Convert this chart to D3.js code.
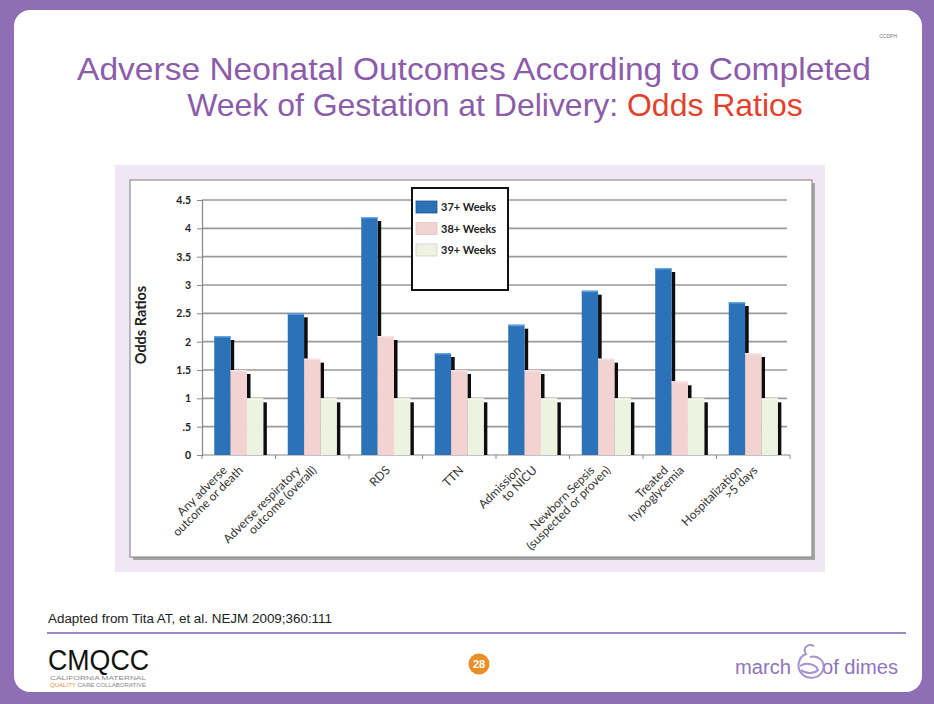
<!DOCTYPE html>
<html>
<head>
<meta charset="utf-8">
<script src="https://cdn.jsdelivr.net/npm/d3@7"></script>
<style>
  body { margin: 0; background: #8e6eb4; }
  svg { display: block; }
</style>
</head>
<body>
<svg id="slide" width="934" height="704"></svg>
<script>
// ---- data ----
const categories = [
  "Any adverse\noutcome or death",
  "Adverse respiratory\noutcome (overall)",
  "RDS",
  "TTN",
  "Admission\nto NICU",
  "Newborn Sepsis\n(suspected or proven)",
  "Treated\nhypoglycemia",
  "Hospitalization\n>5 days"
];
const seriesNames = ["37+ Weeks", "38+ Weeks", "39+ Weeks"];
const weeks37 = [2.1, 2.5, 4.2, 1.8, 2.3, 2.9, 3.3, 2.7];
const weeks38 = [1.5, 1.7, 2.1, 1.5, 1.5, 1.7, 1.3, 1.8];
const weeks39 = [1.0, 1.0, 1.0, 1.0, 1.0, 1.0, 1.0, 1.0];
const yTickValues = [0, 0.5, 1, 1.5, 2, 2.5, 3, 3.5, 4, 4.5];
const yTickLabels = ["0", ".5", "1", "1.5", "2", "2.5", "3", "3.5", "4", "4.5"];

const seriesValues = [weeks37, weeks38, weeks39];
const seriesColors = ["#2b72b8", "#f3d2d2", "#eef3e1"];
const seriesTops = ["#63a6e0", "#f8e3e3", "#f7faee"];

const svg = d3.select("#slide");
const chartFont = "Lato, 'Open Sans', sans-serif";

// ---- slide frame ----
svg.append("rect").attr("width", 934).attr("height", 704).attr("fill", "#8e6eb4");
svg.append("rect").attr("x", 14).attr("y", 10).attr("width", 908).attr("height", 682)
  .attr("rx", 16).attr("fill", "#ffffff");

// ---- title ----
function fittedLine(parts, cx, baseline, width, size) {
  const g = svg.append("g");
  const t = g.append("text")
    .attr("text-anchor", "middle")
    .attr("font-family", "'Liberation Sans', Arial, sans-serif")
    .attr("font-size", size);
  parts.forEach(p => t.append("tspan").attr("fill", p.color).text(p.text));
  const w = t.node().getComputedTextLength();
  g.attr("transform", `translate(${cx},${baseline}) scale(${width / w},1)`);
}
const titlePurple = "#8c5cab";
fittedLine([{ text: "Adverse Neonatal Outcomes According to Completed", color: titlePurple }],
  474, 80, 794, 32);
fittedLine([
  { text: "Week of Gestation at Delivery: ", color: titlePurple },
  { text: "Odds Ratios", color: "#e2422c" }
], 495, 116, 616, 32);

svg.append("text").attr("x", 897).attr("y", 38).attr("text-anchor", "end")
  .attr("font-family", "'Liberation Sans', sans-serif").attr("font-size", 5)
  .attr("fill", "#777").text("CCDPH");

// ---- chart panel ----
svg.append("rect").attr("x", 115).attr("y", 165).attr("width", 710).attr("height", 407)
  .attr("fill", "#f1e7f4");
svg.append("rect").attr("x", 133).attr("y", 183).attr("width", 682).attr("height", 377)
  .attr("fill", "#a5a5a5");
svg.append("rect").attr("x", 130).attr("y", 180).attr("width", 682).attr("height", 377)
  .attr("fill", "#ffffff").attr("stroke", "#8f8f8f").attr("stroke-width", 1.2);

// ---- scales ----
const y = d3.scaleLinear().domain([0, 4.5]).range([455, 200]);
const x0 = d3.scaleBand().domain(d3.range(categories.length)).range([202, 790]);
const x1 = d3.scaleBand().domain(d3.range(seriesNames.length))
  .range([0, x0.bandwidth()]).paddingInner(0).paddingOuter(0.75);

// gridlines
svg.append("g").selectAll("line").data(yTickValues.slice(1)).join("line")
  .attr("x1", 202).attr("x2", 787)
  .attr("y1", d => y(d)).attr("y2", d => y(d))
  .attr("stroke", "#9a9a9a").attr("stroke-width", 1.6);

// y axis
const yAxis = svg.append("g").attr("transform", "translate(202,0)")
  .call(d3.axisLeft(y).tickValues(yTickValues).tickSize(5).tickPadding(6)
    .tickFormat((d, i) => yTickLabels[i]));
yAxis.select(".domain").attr("stroke", "#888").attr("stroke-width", 1.2);
yAxis.selectAll(".tick line").attr("stroke", "#888");
yAxis.selectAll(".tick text").attr("font-family", chartFont).attr("font-weight", 700)
  .attr("font-size", 10.5).attr("fill", "#222");

// x axis
svg.append("line").attr("x1", 202).attr("x2", 790).attr("y1", y(0)).attr("y2", y(0))
  .attr("stroke", "#888").attr("stroke-width", 1.2);
svg.append("g").selectAll("line").data(d3.range(categories.length + 1)).join("line")
  .attr("x1", i => i < categories.length ? x0(i) : x0.range()[1])
  .attr("x2", i => i < categories.length ? x0(i) : x0.range()[1])
  .attr("y1", y(0)).attr("y2", y(0) + 4)
  .attr("stroke", "#888");

// ---- bars with dark side face ----
const barsG = svg.append("g");
const side = 3.6, drop = 4;
categories.forEach((c, i) => {
  seriesValues.forEach((vals, s) => {
    const bx = x0(i) + x1(s);
    const bw = x1.bandwidth();
    const v = vals[i];
    barsG.append("rect")
      .attr("x", bx + bw).attr("width", side)
      .attr("y", y(v) + drop).attr("height", y(0) - y(v) - drop)
      .attr("fill", "#0d0d0d");
    barsG.append("rect")
      .attr("x", bx).attr("width", bw)
      .attr("y", y(v)).attr("height", y(0) - y(v))
      .attr("fill", seriesColors[s]);
    barsG.append("rect")
      .attr("x", bx).attr("width", bw)
      .attr("y", y(v)).attr("height", 1.5)
      .attr("fill", seriesTops[s]);
  });
});

// ---- category labels ----
categories.forEach((c, i) => {
  const lines = c.split("\n");
  const n = lines.length;
  const cx = x0(i) + x0.bandwidth() / 2;
  lines.forEach((ln, k) => {
    svg.append("text")
      .attr("transform", `translate(${cx + 5 - (n - 1 - k) * 16},471) rotate(-45)`)
      .attr("text-anchor", "end")
      .attr("font-family", chartFont).attr("font-size", 12)
      .attr("fill", "#333")
      .text(ln);
  });
});

// axis title
svg.append("text")
  .attr("transform", `translate(146,325) rotate(-90)`)
  .attr("text-anchor", "middle")
  .attr("font-family", chartFont).attr("font-weight", 700).attr("font-size", 14.5)
  .attr("fill", "#222")
  .text("Odds Ratios");

// ---- legend ----
const lg = svg.append("g");
lg.append("rect").attr("x", 412).attr("y", 188).attr("width", 96).attr("height", 102)
  .attr("fill", "#ffffff").attr("stroke", "#111").attr("stroke-width", 2);
seriesNames.forEach((name, s) => {
  const cy = 207 + s * 21.5;
  lg.append("rect").attr("x", 416).attr("y", cy - 6).attr("width", 21).attr("height", 12)
    .attr("fill", seriesColors[s]).attr("stroke", s === 0 ? "#1d5a96" : "#d9c9c9")
    .attr("stroke-width", 0.8);
  lg.append("text").attr("x", 441).attr("y", cy + 4)
    .attr("font-family", chartFont).attr("font-weight", 700).attr("font-size", 11)
    .attr("fill", "#222").text(name);
});

// ---- footer ----
svg.append("text").attr("x", 48).attr("y", 623)
  .attr("font-family", "'Liberation Sans Narrow', 'Liberation Sans', sans-serif")
  .attr("font-size", 12.5).attr("fill", "#222")
  .attr("textLength", 284).attr("lengthAdjust", "spacingAndGlyphs")
  .text("Adapted from Tita AT, et al. NEJM 2009;360:111");
svg.append("line").attr("x1", 47).attr("x2", 906).attr("y1", 633).attr("y2", 633)
  .attr("stroke", "#9c88c6").attr("stroke-width", 2);

// CMQCC logo text
svg.append("text").attr("x", 48).attr("y", 670)
  .attr("font-family", "'Liberation Sans', sans-serif").attr("font-size", 30)
  .attr("textLength", 101).attr("lengthAdjust", "spacingAndGlyphs")
  .attr("fill", "#111").text("CMQCC");
svg.append("text").attr("x", 50).attr("y", 680)
  .attr("font-family", "'Liberation Sans', sans-serif").attr("font-size", 5)
  .attr("textLength", 96).attr("lengthAdjust", "spacingAndGlyphs")
  .attr("fill", "#888").text("CALIFORNIA MATERNAL");
const q = svg.append("text").attr("x", 50).attr("y", 687)
  .attr("font-family", "'Liberation Sans', sans-serif").attr("font-size", 5)
  .attr("textLength", 96).attr("lengthAdjust", "spacingAndGlyphs");
q.append("tspan").attr("fill", "#e8942e").text("QUALITY ");
q.append("tspan").attr("fill", "#888").text("CARE COLLABORATIVE");

// page number
svg.append("circle").attr("cx", 479).attr("cy", 664).attr("r", 10.5).attr("fill", "#e98f26");
svg.append("text").attr("x", 479).attr("y", 668).attr("text-anchor", "middle")
  .attr("font-family", "'Liberation Sans', sans-serif").attr("font-weight", 700)
  .attr("font-size", 11).attr("fill", "#fff").text("28");

// march of dimes mark
const modColor = "#8f74bd";
svg.append("text").attr("x", 735).attr("y", 674)
  .attr("font-family", "'Liberation Sans', sans-serif").attr("font-size", 20)
  .attr("textLength", 56).attr("lengthAdjust", "spacingAndGlyphs")
  .attr("fill", modColor).text("march");
svg.append("text").attr("x", 822).attr("y", 674)
  .attr("font-family", "'Liberation Sans', sans-serif").attr("font-size", 20)
  .attr("textLength", 76).attr("lengthAdjust", "spacingAndGlyphs")
  .attr("fill", modColor).text("of dimes");
const mark = svg.append("g").attr("fill", "none").attr("stroke", "#a493cf").attr("stroke-width", 2);
mark.append("path").attr("d", "M814,646 C808,643 802,648 806,654 C798,657 796,668 802,674 C808,680 820,679 823,670 C826,661 818,655 810,657");
mark.append("path").attr("d", "M800,666 C806,662 816,664 818,670 C814,674 806,674 801,670");
</script>
</body>
</html>
